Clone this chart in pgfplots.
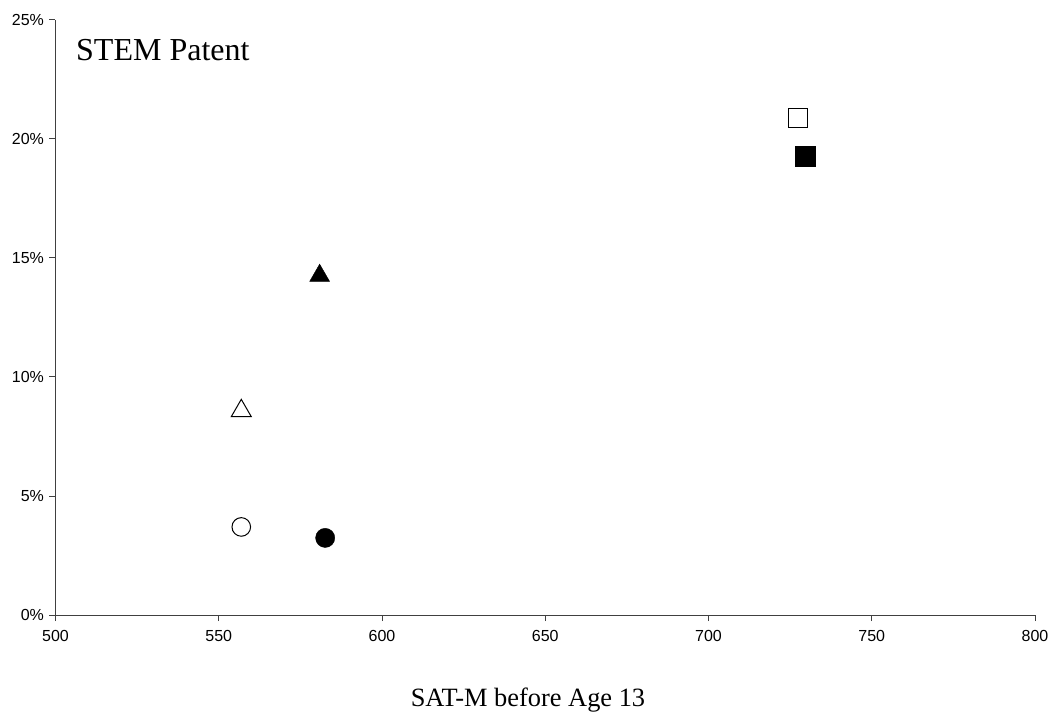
\documentclass[border=0pt]{standalone}
\usepackage{fontspec}
\setmainfont{Liberation Serif}
\newfontfamily\arialf{Liberation Sans}
\usepackage{pgfplots}
\pgfplotsset{compat=1.18}
\begin{document}
\begin{tikzpicture}[x=1pt,y=1pt]
\useasboundingbox (-55.5,-100) rectangle (993.5,615);
\begin{axis}[
  at={(0pt,0pt)}, anchor=south west,
  scale only axis, width=979.5pt, height=595pt,
  xmin=500, xmax=800, ymin=0, ymax=25,
  xtick={500,550,...,800}, ytick={0,5,...,25},
  axis x line*=bottom, axis y line*=left,
  axis line style={-, line width=1pt, black!75},
  tick style={line width=1pt, black!75},
  tick align=outside, major tick length=6pt,
  /pgf/number format/assume math mode=true,
  tick label style={font=\arialf\fontsize{16}{19}\selectfont},
  xticklabel shift=6pt, yticklabel shift=2pt,
  yticklabel={\pgfmathprintnumber{\tick}\%},
  clip=false,
]
\addplot[only marks, mark=square*, mark size=9.5pt, mark options={fill=white, draw=black, line width=1pt}] coordinates {(727.3,20.88)};
\addplot[only marks, mark=square*, mark size=10pt, mark options={fill=black, draw=black}] coordinates {(729.5,19.29)};
\addplot[only marks, mark=triangle*, mark size=11.5pt, mark options={fill=black, draw=black, yshift=-2.9pt}] coordinates {(580.9,14.38)};
\addplot[only marks, mark=triangle*, mark size=11.5pt, mark options={fill=white, draw=black, line width=1pt, yshift=-2.9pt}] coordinates {(556.9,8.70)};
\addplot[only marks, mark=*, mark size=9.3pt, mark options={fill=white, draw=black, line width=1pt}] coordinates {(556.9,3.70)};
\addplot[only marks, mark=*, mark size=9.6pt, mark options={fill=black, draw=black}] coordinates {(582.6,3.24)};
\end{axis}
\node[anchor=base west, font=\fontsize{32}{36}\selectfont, inner sep=0pt] at (20.5,554) {STEM Patent};
\node[anchor=base, font=\fontsize{26.4}{30}\selectfont, inner sep=0pt] at (472.5,-91) {SAT-M before Age 13};
\end{tikzpicture}
\end{document}
